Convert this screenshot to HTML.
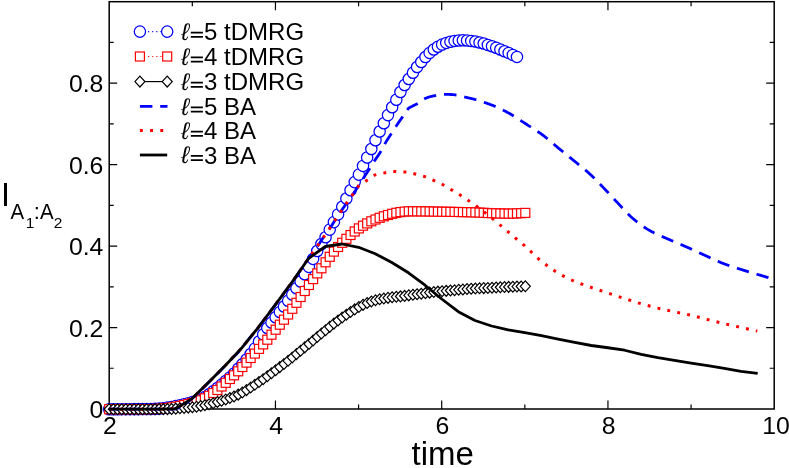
<!DOCTYPE html>
<html><head><meta charset="utf-8"><title>plot</title>
<style>html,body{margin:0;padding:0;background:#fff;}body{width:789px;height:468px;overflow:hidden;position:relative;font-family:"Liberation Sans",sans-serif;}</style>
</head><body>
<svg width="789" height="468" viewBox="0 0 789 468" style="position:absolute;left:0;top:0;will-change:transform">
<rect width="789" height="468" fill="#fff"/>
<rect x="109.2" y="1.7" width="665.0" height="407.3" fill="none" stroke="#000" stroke-width="1.5"/>
<path d="M192.32,409.0v-4.5 M192.32,1.7v4.5 M275.45,409.0v-8.5 M275.45,1.7v8.5 M358.57,409.0v-4.5 M358.57,1.7v4.5 M441.70,409.0v-8.5 M441.70,1.7v8.5 M524.83,409.0v-4.5 M524.83,1.7v4.5 M607.95,409.0v-8.5 M607.95,1.7v8.5 M691.08,409.0v-4.5 M691.08,1.7v4.5 M109.2,368.27h4.5 M774.2,368.27h-4.5 M109.2,327.54h8 M774.2,327.54h-8 M109.2,286.81h4.5 M774.2,286.81h-4.5 M109.2,246.08h8 M774.2,246.08h-8 M109.2,205.35h4.5 M774.2,205.35h-4.5 M109.2,164.62h8 M774.2,164.62h-8 M109.2,123.89h4.5 M774.2,123.89h-4.5 M109.2,83.16h8 M774.2,83.16h-8 M109.2,42.43h4.5 M774.2,42.43h-4.5" stroke="#000" stroke-width="1.2" fill="none"/>
<g fill="#fff" stroke="#0000ff" stroke-width="1.25"><circle cx="109.20" cy="409.20" r="5.65"/><circle cx="113.36" cy="409.20" r="5.65"/><circle cx="117.52" cy="409.19" r="5.65"/><circle cx="121.68" cy="409.18" r="5.65"/><circle cx="125.84" cy="409.17" r="5.65"/><circle cx="130.00" cy="409.16" r="5.65"/><circle cx="134.17" cy="409.13" r="5.65"/><circle cx="138.33" cy="409.11" r="5.65"/><circle cx="142.49" cy="409.08" r="5.65"/><circle cx="146.65" cy="409.04" r="5.65"/><circle cx="150.81" cy="409.00" r="5.65"/><circle cx="154.97" cy="408.86" r="5.65"/><circle cx="159.13" cy="408.60" r="5.65"/><circle cx="163.29" cy="408.18" r="5.65"/><circle cx="167.45" cy="407.60" r="5.65"/><circle cx="171.62" cy="406.90" r="5.65"/><circle cx="175.78" cy="406.10" r="5.65"/><circle cx="179.94" cy="405.25" r="5.65"/><circle cx="184.10" cy="404.30" r="5.65"/><circle cx="188.26" cy="403.21" r="5.65"/><circle cx="192.42" cy="402.00" r="5.65"/><circle cx="196.58" cy="400.78" r="5.65"/><circle cx="200.74" cy="399.30" r="5.65"/><circle cx="204.90" cy="397.06" r="5.65"/><circle cx="209.06" cy="394.30" r="5.65"/><circle cx="213.22" cy="391.28" r="5.65"/><circle cx="217.39" cy="388.00" r="5.65"/><circle cx="221.55" cy="384.58" r="5.65"/><circle cx="225.71" cy="381.00" r="5.65"/><circle cx="229.87" cy="377.40" r="5.65"/><circle cx="234.03" cy="373.50" r="5.65"/><circle cx="238.19" cy="368.80" r="5.65"/><circle cx="242.35" cy="364.30" r="5.65"/><circle cx="246.51" cy="359.50" r="5.65"/><circle cx="250.67" cy="354.00" r="5.65"/><circle cx="254.83" cy="348.60" r="5.65"/><circle cx="259.00" cy="341.50" r="5.65"/><circle cx="263.16" cy="334.50" r="5.65"/><circle cx="267.32" cy="328.00" r="5.65"/><circle cx="271.48" cy="322.50" r="5.65"/><circle cx="275.64" cy="317.30" r="5.65"/><circle cx="279.80" cy="312.00" r="5.65"/><circle cx="283.96" cy="306.50" r="5.65"/><circle cx="288.12" cy="300.80" r="5.65"/><circle cx="292.28" cy="294.50" r="5.65"/><circle cx="296.44" cy="288.20" r="5.65"/><circle cx="300.61" cy="281.50" r="5.65"/><circle cx="304.77" cy="274.20" r="5.65"/><circle cx="308.93" cy="266.90" r="5.65"/><circle cx="313.09" cy="258.90" r="5.65"/><circle cx="317.25" cy="251.00" r="5.65"/><circle cx="321.41" cy="244.00" r="5.65"/><circle cx="325.57" cy="237.30" r="5.65"/><circle cx="329.73" cy="229.60" r="5.65"/><circle cx="333.89" cy="222.10" r="5.65"/><circle cx="338.06" cy="214.40" r="5.65"/><circle cx="342.22" cy="206.70" r="5.65"/><circle cx="346.38" cy="198.50" r="5.65"/><circle cx="350.54" cy="190.30" r="5.65"/><circle cx="354.70" cy="182.10" r="5.65"/><circle cx="358.86" cy="174.60" r="5.65"/><circle cx="363.02" cy="165.90" r="5.65"/><circle cx="367.18" cy="157.50" r="5.65"/><circle cx="371.34" cy="149.00" r="5.65"/><circle cx="375.50" cy="140.30" r="5.65"/><circle cx="379.66" cy="131.50" r="5.65"/><circle cx="383.83" cy="123.30" r="5.65"/><circle cx="387.99" cy="115.10" r="5.65"/><circle cx="392.15" cy="107.20" r="5.65"/><circle cx="396.31" cy="99.70" r="5.65"/><circle cx="400.47" cy="92.00" r="5.65"/><circle cx="404.63" cy="85.00" r="5.65"/><circle cx="408.79" cy="79.00" r="5.65"/><circle cx="412.95" cy="72.70" r="5.65"/><circle cx="417.11" cy="67.00" r="5.65"/><circle cx="421.27" cy="62.00" r="5.65"/><circle cx="425.44" cy="57.00" r="5.65"/><circle cx="429.60" cy="52.90" r="5.65"/><circle cx="433.76" cy="49.50" r="5.65"/><circle cx="437.92" cy="46.80" r="5.65"/><circle cx="442.08" cy="44.60" r="5.65"/><circle cx="446.24" cy="42.90" r="5.65"/><circle cx="450.40" cy="41.70" r="5.65"/><circle cx="454.56" cy="40.90" r="5.65"/><circle cx="458.72" cy="40.50" r="5.65"/><circle cx="462.88" cy="40.30" r="5.65"/><circle cx="467.05" cy="40.50" r="5.65"/><circle cx="471.21" cy="40.90" r="5.65"/><circle cx="475.37" cy="41.50" r="5.65"/><circle cx="479.53" cy="42.50" r="5.65"/><circle cx="483.69" cy="43.50" r="5.65"/><circle cx="487.85" cy="44.90" r="5.65"/><circle cx="492.01" cy="46.30" r="5.65"/><circle cx="496.17" cy="47.80" r="5.65"/><circle cx="500.33" cy="49.50" r="5.65"/><circle cx="504.49" cy="51.20" r="5.65"/><circle cx="508.66" cy="52.90" r="5.65"/><circle cx="512.82" cy="54.90" r="5.65"/><circle cx="516.98" cy="56.90" r="5.65"/></g>
<g fill="#fff" stroke="#ff0000" stroke-width="1.2"><rect x="104.70" y="404.70" width="9.0" height="9.0"/><rect x="108.86" y="404.70" width="9.0" height="9.0"/><rect x="113.02" y="404.70" width="9.0" height="9.0"/><rect x="117.18" y="404.69" width="9.0" height="9.0"/><rect x="121.34" y="404.69" width="9.0" height="9.0"/><rect x="125.50" y="404.68" width="9.0" height="9.0"/><rect x="129.67" y="404.67" width="9.0" height="9.0"/><rect x="133.83" y="404.66" width="9.0" height="9.0"/><rect x="137.99" y="404.64" width="9.0" height="9.0"/><rect x="142.15" y="404.62" width="9.0" height="9.0"/><rect x="146.31" y="404.60" width="9.0" height="9.0"/><rect x="150.47" y="404.50" width="9.0" height="9.0"/><rect x="154.63" y="404.30" width="9.0" height="9.0"/><rect x="158.79" y="403.90" width="9.0" height="9.0"/><rect x="162.95" y="403.50" width="9.0" height="9.0"/><rect x="167.12" y="402.90" width="9.0" height="9.0"/><rect x="171.28" y="402.20" width="9.0" height="9.0"/><rect x="175.44" y="401.40" width="9.0" height="9.0"/><rect x="179.60" y="400.50" width="9.0" height="9.0"/><rect x="183.76" y="399.50" width="9.0" height="9.0"/><rect x="187.92" y="398.30" width="9.0" height="9.0"/><rect x="192.08" y="397.10" width="9.0" height="9.0"/><rect x="196.24" y="395.80" width="9.0" height="9.0"/><rect x="200.40" y="393.80" width="9.0" height="9.0"/><rect x="204.56" y="391.30" width="9.0" height="9.0"/><rect x="208.72" y="388.50" width="9.0" height="9.0"/><rect x="212.89" y="385.50" width="9.0" height="9.0"/><rect x="217.05" y="382.00" width="9.0" height="9.0"/><rect x="221.21" y="378.30" width="9.0" height="9.0"/><rect x="225.37" y="374.50" width="9.0" height="9.0"/><rect x="229.53" y="370.80" width="9.0" height="9.0"/><rect x="233.69" y="366.80" width="9.0" height="9.0"/><rect x="237.85" y="362.50" width="9.0" height="9.0"/><rect x="242.01" y="358.10" width="9.0" height="9.0"/><rect x="246.17" y="353.50" width="9.0" height="9.0"/><rect x="250.33" y="349.10" width="9.0" height="9.0"/><rect x="254.50" y="344.40" width="9.0" height="9.0"/><rect x="258.66" y="339.90" width="9.0" height="9.0"/><rect x="262.82" y="335.20" width="9.0" height="9.0"/><rect x="266.98" y="330.20" width="9.0" height="9.0"/><rect x="271.14" y="325.20" width="9.0" height="9.0"/><rect x="275.30" y="320.20" width="9.0" height="9.0"/><rect x="279.46" y="315.20" width="9.0" height="9.0"/><rect x="283.62" y="310.00" width="9.0" height="9.0"/><rect x="287.78" y="304.30" width="9.0" height="9.0"/><rect x="291.94" y="298.30" width="9.0" height="9.0"/><rect x="296.11" y="292.50" width="9.0" height="9.0"/><rect x="300.27" y="286.50" width="9.0" height="9.0"/><rect x="304.43" y="280.50" width="9.0" height="9.0"/><rect x="308.59" y="274.60" width="9.0" height="9.0"/><rect x="312.75" y="268.90" width="9.0" height="9.0"/><rect x="316.91" y="263.80" width="9.0" height="9.0"/><rect x="321.07" y="257.80" width="9.0" height="9.0"/><rect x="325.23" y="252.30" width="9.0" height="9.0"/><rect x="329.39" y="247.10" width="9.0" height="9.0"/><rect x="333.56" y="242.50" width="9.0" height="9.0"/><rect x="337.72" y="238.30" width="9.0" height="9.0"/><rect x="341.88" y="234.30" width="9.0" height="9.0"/><rect x="346.04" y="230.50" width="9.0" height="9.0"/><rect x="350.20" y="227.00" width="9.0" height="9.0"/><rect x="354.36" y="223.90" width="9.0" height="9.0"/><rect x="358.52" y="221.20" width="9.0" height="9.0"/><rect x="362.68" y="218.90" width="9.0" height="9.0"/><rect x="366.84" y="216.80" width="9.0" height="9.0"/><rect x="371.00" y="215.00" width="9.0" height="9.0"/><rect x="375.16" y="213.30" width="9.0" height="9.0"/><rect x="379.33" y="211.80" width="9.0" height="9.0"/><rect x="383.49" y="210.50" width="9.0" height="9.0"/><rect x="387.65" y="209.30" width="9.0" height="9.0"/><rect x="391.81" y="208.30" width="9.0" height="9.0"/><rect x="395.97" y="207.60" width="9.0" height="9.0"/><rect x="400.13" y="207.10" width="9.0" height="9.0"/><rect x="404.29" y="206.80" width="9.0" height="9.0"/><rect x="408.45" y="206.81" width="9.0" height="9.0"/><rect x="412.61" y="206.83" width="9.0" height="9.0"/><rect x="416.77" y="206.86" width="9.0" height="9.0"/><rect x="420.94" y="206.90" width="9.0" height="9.0"/><rect x="425.10" y="206.95" width="9.0" height="9.0"/><rect x="429.26" y="207.03" width="9.0" height="9.0"/><rect x="433.42" y="207.12" width="9.0" height="9.0"/><rect x="437.58" y="207.20" width="9.0" height="9.0"/><rect x="441.74" y="207.27" width="9.0" height="9.0"/><rect x="445.90" y="207.34" width="9.0" height="9.0"/><rect x="450.06" y="207.42" width="9.0" height="9.0"/><rect x="454.22" y="207.50" width="9.0" height="9.0"/><rect x="458.38" y="207.59" width="9.0" height="9.0"/><rect x="462.55" y="207.68" width="9.0" height="9.0"/><rect x="466.71" y="207.78" width="9.0" height="9.0"/><rect x="470.87" y="207.90" width="9.0" height="9.0"/><rect x="475.03" y="208.07" width="9.0" height="9.0"/><rect x="479.19" y="208.30" width="9.0" height="9.0"/><rect x="483.35" y="208.52" width="9.0" height="9.0"/><rect x="487.51" y="208.70" width="9.0" height="9.0"/><rect x="491.67" y="208.84" width="9.0" height="9.0"/><rect x="495.83" y="208.97" width="9.0" height="9.0"/><rect x="499.99" y="209.06" width="9.0" height="9.0"/><rect x="504.16" y="209.10" width="9.0" height="9.0"/><rect x="508.32" y="209.05" width="9.0" height="9.0"/><rect x="512.48" y="208.91" width="9.0" height="9.0"/><rect x="516.64" y="208.69" width="9.0" height="9.0"/><rect x="520.80" y="208.40" width="9.0" height="9.0"/></g>
<g fill="#fff" stroke="#000" stroke-width="1.2" stroke-linejoin="miter"><path d="M104.20,409.20L109.20,403.80L114.20,409.20L109.20,414.60Z"/><path d="M108.36,409.20L113.36,403.80L118.36,409.20L113.36,414.60Z"/><path d="M112.52,409.20L117.52,403.80L122.52,409.20L117.52,414.60Z"/><path d="M116.68,409.20L121.68,403.80L126.68,409.20L121.68,414.60Z"/><path d="M120.84,409.19L125.84,403.79L130.84,409.19L125.84,414.59Z"/><path d="M125.00,409.19L130.00,403.79L135.00,409.19L130.00,414.59Z"/><path d="M129.17,409.19L134.17,403.79L139.17,409.19L134.17,414.59Z"/><path d="M133.33,409.18L138.33,403.78L143.33,409.18L138.33,414.58Z"/><path d="M137.49,409.17L142.49,403.77L147.49,409.17L142.49,414.57Z"/><path d="M141.65,409.17L146.65,403.77L151.65,409.17L146.65,414.57Z"/><path d="M145.81,409.16L150.81,403.76L155.81,409.16L150.81,414.56Z"/><path d="M149.97,409.14L154.97,403.74L159.97,409.14L154.97,414.54Z"/><path d="M154.13,409.13L159.13,403.73L164.13,409.13L159.13,414.53Z"/><path d="M158.29,409.12L163.29,403.72L168.29,409.12L163.29,414.52Z"/><path d="M162.45,409.10L167.45,403.70L172.45,409.10L167.45,414.50Z"/><path d="M166.62,408.95L171.62,403.55L176.62,408.95L171.62,414.35Z"/><path d="M170.78,408.64L175.78,403.24L180.78,408.64L175.78,414.04Z"/><path d="M174.94,408.30L179.94,402.90L184.94,408.30L179.94,413.70Z"/><path d="M179.10,407.98L184.10,402.58L189.10,407.98L184.10,413.38Z"/><path d="M183.26,407.62L188.26,402.22L193.26,407.62L188.26,413.02Z"/><path d="M187.42,407.20L192.42,401.80L197.42,407.20L192.42,412.60Z"/><path d="M191.58,406.66L196.58,401.26L201.58,406.66L196.58,412.06Z"/><path d="M195.74,406.00L200.74,400.60L205.74,406.00L200.74,411.40Z"/><path d="M199.90,405.22L204.90,399.82L209.90,405.22L204.90,410.62Z"/><path d="M204.06,404.30L209.06,398.90L214.06,404.30L209.06,409.70Z"/><path d="M208.22,403.20L213.22,397.80L218.22,403.20L213.22,408.60Z"/><path d="M212.39,402.00L217.39,396.60L222.39,402.00L217.39,407.40Z"/><path d="M216.55,400.80L221.55,395.40L226.55,400.80L221.55,406.20Z"/><path d="M220.71,399.44L225.71,394.04L230.71,399.44L225.71,404.84Z"/><path d="M224.87,398.00L229.87,392.60L234.87,398.00L229.87,403.40Z"/><path d="M229.03,396.50L234.03,391.10L239.03,396.50L234.03,401.90Z"/><path d="M233.19,394.63L238.19,389.23L243.19,394.63L238.19,400.03Z"/><path d="M237.35,392.50L242.35,387.10L247.35,392.50L242.35,397.90Z"/><path d="M241.51,390.10L246.51,384.70L251.51,390.10L246.51,395.50Z"/><path d="M245.67,387.50L250.67,382.10L255.67,387.50L250.67,392.90Z"/><path d="M249.83,384.80L254.83,379.40L259.83,384.80L254.83,390.20Z"/><path d="M254.00,382.00L259.00,376.60L264.00,382.00L259.00,387.40Z"/><path d="M258.16,379.19L263.16,373.79L268.16,379.19L263.16,384.59Z"/><path d="M262.32,376.30L267.32,370.90L272.32,376.30L267.32,381.70Z"/><path d="M266.48,373.28L271.48,367.88L276.48,373.28L271.48,378.68Z"/><path d="M270.64,370.20L275.64,364.80L280.64,370.20L275.64,375.60Z"/><path d="M274.80,367.12L279.80,361.72L284.80,367.12L279.80,372.52Z"/><path d="M278.96,364.00L283.96,358.60L288.96,364.00L283.96,369.40Z"/><path d="M283.12,360.79L288.12,355.39L293.12,360.79L288.12,366.19Z"/><path d="M287.28,357.50L292.28,352.10L297.28,357.50L292.28,362.90Z"/><path d="M291.44,354.11L296.44,348.71L301.44,354.11L296.44,359.51Z"/><path d="M295.61,350.70L300.61,345.30L305.61,350.70L300.61,356.10Z"/><path d="M299.77,347.36L304.77,341.96L309.77,347.36L304.77,352.76Z"/><path d="M303.93,344.00L308.93,338.60L313.93,344.00L308.93,349.40Z"/><path d="M308.09,340.51L313.09,335.11L318.09,340.51L313.09,345.91Z"/><path d="M312.25,337.00L317.25,331.60L322.25,337.00L317.25,342.40Z"/><path d="M316.41,333.57L321.41,328.17L326.41,333.57L321.41,338.97Z"/><path d="M320.57,330.20L325.57,324.80L330.57,330.20L325.57,335.60Z"/><path d="M324.73,326.86L329.73,321.46L334.73,326.86L329.73,332.26Z"/><path d="M328.89,323.60L333.89,318.20L338.89,323.60L333.89,329.00Z"/><path d="M333.06,320.48L338.06,315.08L343.06,320.48L338.06,325.88Z"/><path d="M337.22,317.50L342.22,312.10L347.22,317.50L342.22,322.90Z"/><path d="M341.38,314.68L346.38,309.28L351.38,314.68L346.38,320.08Z"/><path d="M345.54,312.00L350.54,306.60L355.54,312.00L350.54,317.40Z"/><path d="M349.70,309.40L354.70,304.00L359.70,309.40L354.70,314.80Z"/><path d="M353.86,307.00L358.86,301.60L363.86,307.00L358.86,312.40Z"/><path d="M358.02,304.85L363.02,299.45L368.02,304.85L363.02,310.25Z"/><path d="M362.18,303.00L367.18,297.60L372.18,303.00L367.18,308.40Z"/><path d="M366.34,301.52L371.34,296.12L376.34,301.52L371.34,306.92Z"/><path d="M370.50,300.30L375.50,294.90L380.50,300.30L375.50,305.70Z"/><path d="M374.66,299.31L379.66,293.91L384.66,299.31L379.66,304.71Z"/><path d="M378.83,298.50L383.83,293.10L388.83,298.50L383.83,303.90Z"/><path d="M382.99,297.85L387.99,292.45L392.99,297.85L387.99,303.25Z"/><path d="M387.15,297.30L392.15,291.90L397.15,297.30L392.15,302.70Z"/><path d="M391.31,296.84L396.31,291.44L401.31,296.84L396.31,302.24Z"/><path d="M395.47,296.40L400.47,291.00L405.47,296.40L400.47,301.80Z"/><path d="M399.63,295.90L404.63,290.50L409.63,295.90L404.63,301.30Z"/><path d="M403.79,295.36L408.79,289.96L413.79,295.36L408.79,300.76Z"/><path d="M407.95,294.81L412.95,289.41L417.95,294.81L412.95,300.21Z"/><path d="M412.11,294.26L417.11,288.86L422.11,294.26L417.11,299.66Z"/><path d="M416.27,293.72L421.27,288.32L426.27,293.72L421.27,299.12Z"/><path d="M420.44,293.15L425.44,287.75L430.44,293.15L425.44,298.55Z"/><path d="M424.60,292.60L429.60,287.20L434.60,292.60L429.60,298.00Z"/><path d="M428.76,292.08L433.76,286.68L438.76,292.08L433.76,297.48Z"/><path d="M432.92,291.63L437.92,286.23L442.92,291.63L437.92,297.03Z"/><path d="M437.08,291.23L442.08,285.83L447.08,291.23L442.08,296.63Z"/><path d="M441.24,290.87L446.24,285.47L451.24,290.87L446.24,296.27Z"/><path d="M445.40,290.52L450.40,285.12L455.40,290.52L450.40,295.92Z"/><path d="M449.56,290.16L454.56,284.76L459.56,290.16L454.56,295.56Z"/><path d="M453.72,289.79L458.72,284.39L463.72,289.79L458.72,295.19Z"/><path d="M457.88,289.41L462.88,284.01L467.88,289.41L462.88,294.81Z"/><path d="M462.05,289.06L467.05,283.66L472.05,289.06L467.05,294.46Z"/><path d="M466.21,288.75L471.21,283.35L476.21,288.75L471.21,294.15Z"/><path d="M470.37,288.51L475.37,283.11L480.37,288.51L475.37,293.91Z"/><path d="M474.53,288.30L479.53,282.90L484.53,288.30L479.53,293.70Z"/><path d="M478.69,288.11L483.69,282.71L488.69,288.11L483.69,293.51Z"/><path d="M482.85,287.92L487.85,282.52L492.85,287.92L487.85,293.32Z"/><path d="M487.01,287.72L492.01,282.32L497.01,287.72L492.01,293.12Z"/><path d="M491.17,287.50L496.17,282.10L501.17,287.50L496.17,292.90Z"/><path d="M495.33,287.28L500.33,281.88L505.33,287.28L500.33,292.68Z"/><path d="M499.49,287.07L504.49,281.67L509.49,287.07L504.49,292.47Z"/><path d="M503.66,286.88L508.66,281.48L513.66,286.88L508.66,292.28Z"/><path d="M507.82,286.72L512.82,281.32L517.82,286.72L512.82,292.12Z"/><path d="M511.98,286.56L516.98,281.16L521.98,286.56L516.98,291.96Z"/><path d="M516.14,286.42L521.14,281.02L526.14,286.42L521.14,291.82Z"/><path d="M520.30,286.30L525.30,280.90L530.30,286.30L525.30,291.70Z"/></g>
<path d="M109.20,409.20 L109.61,409.20 L110.02,409.20 L110.44,409.20 L110.85,409.20 L111.26,409.20 L111.67,409.20 L112.09,409.20 L112.50,409.20 L112.91,409.20 L113.32,409.20 L113.74,409.20 L114.15,409.20 L114.56,409.20 L114.97,409.20 L115.38,409.20 L115.80,409.20 L116.21,409.20 L116.62,409.20 L117.03,409.20 L117.45,409.20 L117.86,409.20 L118.27,409.20 L118.68,409.20 L119.10,409.20 L119.51,409.20 L119.92,409.20 L120.33,409.20 L120.74,409.20 L121.16,409.20 L121.57,409.20 L121.98,409.20 L122.39,409.20 L122.81,409.20 L123.22,409.20 L123.63,409.20 L124.04,409.20 L124.46,409.20 L124.87,409.20 L125.28,409.20 L125.69,409.20 L126.11,409.20 L126.52,409.20 L126.93,409.20 L127.34,409.20 L127.75,409.20 L128.17,409.20 L128.58,409.20 L128.99,409.20 L129.40,409.20 L129.82,409.20 L130.23,409.20 L130.64,409.20 L131.05,409.20 L131.47,409.20 L131.88,409.20 L132.29,409.20 L132.70,409.20 L133.11,409.20 L133.53,409.20 L133.94,409.20 L134.35,409.20 L134.76,409.20 L135.18,409.20 L135.59,409.20 L136.00,409.20 L136.41,409.20 L136.83,409.20 L137.24,409.20 L137.65,409.20 L138.06,409.20 L138.47,409.20 L138.89,409.20 L139.30,409.20 L139.71,409.20 L140.12,409.20 L140.54,409.20 L140.95,409.20 L141.36,409.20 L141.77,409.20 L142.19,409.20 L142.60,409.20 L143.01,409.20 L143.42,409.20 L143.83,409.20 L144.25,409.20 L144.66,409.20 L145.07,409.20 L145.48,409.20 L145.90,409.20 L146.31,409.20 L146.72,409.20 L147.13,409.20 L147.55,409.20 L147.96,409.20 L148.37,409.20 L148.78,409.20 L149.20,409.20 L149.61,409.20 L150.02,409.20 L150.43,409.20 L150.84,409.20 L151.26,409.20 L151.67,409.20 L152.08,409.20 L152.49,409.20 L152.91,409.20 L153.32,409.20 L153.73,409.20 L154.14,409.20 L154.56,409.20 L154.97,409.20 L155.38,409.20 L155.79,409.20 L156.20,409.20 L156.62,409.20 L157.03,409.20 L157.44,409.20 L157.85,409.20 L158.27,409.20 L158.68,409.20 L159.09,409.20 L159.50,409.20 L159.92,409.20 L160.33,409.20 L160.74,409.20 L161.15,409.20 L161.56,409.20 L161.98,409.20 L162.39,409.20 L162.80,409.20 L163.21,409.20 L163.63,409.20 L164.04,409.20 L164.45,409.20 L164.86,409.20 L165.28,409.20 L165.69,409.20 L166.10,409.20 L166.51,409.20 L166.92,409.20 L167.34,409.20 L167.75,409.20 L168.16,409.20 L168.57,409.20 L168.99,409.20 L169.40,409.20 L169.81,409.20 L170.22,409.20 L170.64,409.20 L171.05,409.20 L171.46,409.20 L171.87,409.20 L172.28,409.20 L172.70,409.18 L173.11,409.15 L173.52,409.10 L173.93,409.05 L174.35,408.99 L174.76,408.92 L175.17,408.84 L175.58,408.75 L176.00,408.66 L176.41,408.57 L176.82,408.47 L177.23,408.34 L177.65,408.18 L178.06,407.99 L178.47,407.78 L178.88,407.55 L179.29,407.31 L179.71,407.06 L180.12,406.81 L180.53,406.57 L180.94,406.33 L181.36,406.11 L181.77,405.88 L182.18,405.65 L182.59,405.42 L183.01,405.19 L183.42,404.95 L183.83,404.71 L184.24,404.46 L184.65,404.21 L185.07,403.95 L185.48,403.68 L185.89,403.40 L186.30,403.12 L186.72,402.83 L187.13,402.53 L187.54,402.22 L187.95,401.91 L188.37,401.59 L188.78,401.27 L189.19,400.94 L189.60,400.61 L190.01,400.27 L190.43,399.93 L190.84,399.59 L191.25,399.24 L191.66,398.89 L192.08,398.53 L192.49,398.17 L192.90,397.80 L193.31,397.43 L193.73,397.05 L194.14,396.67 L194.55,396.28 L194.96,395.89 L195.37,395.50 L195.79,395.11 L196.20,394.71 L196.61,394.31 L197.02,393.91 L197.44,393.50 L197.85,393.10 L198.26,392.69 L198.67,392.29 L199.09,391.88 L199.50,391.48 L199.91,391.07 L200.32,390.67 L200.74,390.27 L201.15,389.87 L201.56,389.46 L201.97,389.06 L202.38,388.65 L202.80,388.24 L203.21,387.83 L203.62,387.42 L204.03,387.01 L204.45,386.60 L204.86,386.18 L205.27,385.77 L205.68,385.35 L206.10,384.94 L206.51,384.52 L206.92,384.11 L207.33,383.69 L207.74,383.27 L208.16,382.86 L208.57,382.44 L208.98,382.03 L209.39,381.61 L209.81,381.20 L210.22,380.78 L210.63,380.37 L211.04,379.96 L211.46,379.55 L211.87,379.13 L212.28,378.72 L212.69,378.31 L213.10,377.90 L213.52,377.50 L213.93,377.09 L214.34,376.68 L214.75,376.27 L215.17,375.86 L215.58,375.45 L215.99,375.04 L216.40,374.63 L216.82,374.22 L217.23,373.81 L217.64,373.40 L218.05,372.98 L218.46,372.57 L218.88,372.15 L219.29,371.74 L219.70,371.32 L220.11,370.90 L220.53,370.48 L220.94,370.06 L221.35,369.64 L221.76,369.21 L222.18,368.79 L222.59,368.36 L223.00,367.93 L223.41,367.49 L223.83,367.06 L224.24,366.63 L224.65,366.19 L225.06,365.75 L225.47,365.32 L225.89,364.88 L226.30,364.44 L226.71,364.00 L227.12,363.57 L227.54,363.13 L227.95,362.69 L228.36,362.26 L228.77,361.82 L229.19,361.39 L229.60,360.96 L230.01,360.53 L230.42,360.10 L230.83,359.68 L231.25,359.25 L231.66,358.84 L232.07,358.42 L232.48,358.02 L232.90,357.61 L233.31,357.21 L233.72,356.82 L234.13,356.42 L234.55,356.02 L234.96,355.62 L235.37,355.22 L235.78,354.82 L236.19,354.41 L236.61,354.00 L237.02,353.58 L237.43,353.15 L237.84,352.71 L238.26,352.27 L238.67,351.81 L239.08,351.34 L239.49,350.86 L239.91,350.37 L240.32,349.87 L240.73,349.36 L241.14,348.84 L241.55,348.32 L241.97,347.79 L242.38,347.26 L242.79,346.72 L243.20,346.19 L243.62,345.65 L244.03,345.11 L244.44,344.57 L244.85,344.04 L245.27,343.51 L245.68,342.98 L246.09,342.46 L246.50,341.94 L246.91,341.44 L247.33,340.93 L247.74,340.43 L248.15,339.94 L248.56,339.44 L248.98,338.95 L249.39,338.46 L249.80,337.97 L250.21,337.48 L250.63,336.99 L251.04,336.50 L251.45,336.01 L251.86,335.52 L252.28,335.03 L252.69,334.54 L253.10,334.04 L253.51,333.54 L253.92,333.03 L254.34,332.53 L254.75,332.01 L255.16,331.50 L255.57,330.98 L255.99,330.45 L256.40,329.92 L256.81,329.39 L257.22,328.86 L257.64,328.32 L258.05,327.78 L258.46,327.24 L258.87,326.70 L259.28,326.15 L259.70,325.61 L260.11,325.06 L260.52,324.51 L260.93,323.96 L261.35,323.41 L261.76,322.86 L262.17,322.31 L262.58,321.76 L263.00,321.21 L263.41,320.65 L263.82,320.10 L264.23,319.55 L264.64,319.00 L265.06,318.46 L265.47,317.91 L265.88,317.36 L266.29,316.81 L266.71,316.27 L267.12,315.72 L267.53,315.17 L267.94,314.62 L268.36,314.07 L268.77,313.52 L269.18,312.97 L269.59,312.42 L270.00,311.87 L270.42,311.32 L270.83,310.77 L271.24,310.22 L271.65,309.67 L272.07,309.12 L272.48,308.57 L272.89,308.02 L273.30,307.47 L273.72,306.92 L274.13,306.37 L274.54,305.81 L274.95,305.26 L275.37,304.71 L275.78,304.16 L276.19,303.61 L276.60,303.06 L277.01,302.51 L277.43,301.96 L277.84,301.41 L278.25,300.86 L278.66,300.31 L279.08,299.76 L279.49,299.21 L279.90,298.66 L280.31,298.11 L280.73,297.56 L281.14,297.01 L281.55,296.46 L281.96,295.90 L282.37,295.35 L282.79,294.80 L283.20,294.24 L283.61,293.69 L284.02,293.13 L284.44,292.58 L284.85,292.02 L285.26,291.46 L285.67,290.90 L286.09,290.34 L286.50,289.78 L286.91,289.21 L287.32,288.65 L287.73,288.09 L288.15,287.53 L288.56,286.96 L288.97,286.40 L289.38,285.84 L289.80,285.28 L290.21,284.71 L290.62,284.15 L291.03,283.58 L291.45,283.02 L291.86,282.45 L292.27,281.88 L292.68,281.31 L293.09,280.74 L293.51,280.17 L293.92,279.60 L294.33,279.02 L294.74,278.44 L295.16,277.86 L295.57,277.28 L295.98,276.69 L296.39,276.11 L296.81,275.52 L297.22,274.92 L297.63,274.33 L298.04,273.73 L298.45,273.13 L298.87,272.51 L299.28,271.89 L299.69,271.26 L300.10,270.62 L300.52,269.99 L300.93,269.35 L301.34,268.71 L301.75,268.07 L302.17,267.44 L302.58,266.81 L302.99,266.19 L303.40,265.59 L303.82,264.99 L304.23,264.40 L304.64,263.81 L305.05,263.23 L305.46,262.66 L305.88,262.09 L306.29,261.52 L306.70,260.95 L307.11,260.39 L307.53,259.83 L307.94,259.28 L308.35,258.72 L308.76,258.17 L309.18,257.61 L309.59,257.06 L310.00,256.50 L310.41,255.95 L310.82,255.39 L311.24,254.84 L311.65,254.28 L312.06,253.71 L312.47,253.15 L312.89,252.58 L313.30,252.01 L313.71,251.45 L314.12,250.88 L314.54,250.32 L314.95,249.75 L315.36,249.19 L315.77,248.62 L316.18,248.05 L316.60,247.48 L317.01,246.90 L317.42,246.32 L317.83,245.74 L318.25,245.15 L318.66,244.56 L319.07,243.96 L319.48,243.35 L319.90,242.73 L320.31,242.10 L320.72,241.47 L321.13,240.84 L321.54,240.20 L321.96,239.57 L322.37,238.94 L322.78,238.31 L323.19,237.69 L323.61,237.08 L324.02,236.48 L324.43,235.89 L324.84,235.31 L325.26,234.73 L325.67,234.16 L326.08,233.59 L326.49,233.02 L326.91,232.46 L327.32,231.89 L327.73,231.33 L328.14,230.75 L328.55,230.18 L328.97,229.60 L329.38,229.01 L329.79,228.41 L330.20,227.80 L330.62,227.18 L331.03,226.55 L331.44,225.91 L331.85,225.27 L332.27,224.62 L332.68,223.97 L333.09,223.32 L333.50,222.66 L333.91,222.01 L334.33,221.36 L334.74,220.72 L335.15,220.08 L335.56,219.45 L335.98,218.82 L336.39,218.19 L336.80,217.57 L337.21,216.95 L337.63,216.32 L338.04,215.70 L338.45,215.08 L338.86,214.47 L339.27,213.85 L339.69,213.24 L340.10,212.63 L340.51,212.02 L340.92,211.41 L341.34,210.81 L341.75,210.20 L342.16,209.60 L342.57,209.01 L342.99,208.41 L343.40,207.81 L343.81,207.22 L344.22,206.63 L344.63,206.04 L345.05,205.45 L345.46,204.86 L345.87,204.27 L346.28,203.68 L346.70,203.09 L347.11,202.50 L347.52,201.91 L347.93,201.33 L348.35,200.75 L348.76,200.16 L349.17,199.58 L349.58,199.00 L349.99,198.42 L350.41,197.84 L350.82,197.25 L351.23,196.67 L351.64,196.08 L352.06,195.49 L352.47,194.89 L352.88,194.29 L353.29,193.69 L353.71,193.09 L354.12,192.49 L354.53,191.88 L354.94,191.28 L355.36,190.67 L355.77,190.06 L356.18,189.44 L356.59,188.83 L357.00,188.21 L357.42,187.59 L357.83,186.96 L358.24,186.34 L358.65,185.70 L359.07,185.07 L359.48,184.42 L359.89,183.78 L360.30,183.13 L360.72,182.48 L361.13,181.83 L361.54,181.17 L361.95,180.52 L362.36,179.87 L362.78,179.22 L363.19,178.57 L363.60,177.93 L364.01,177.29 L364.43,176.65 L364.84,176.01 L365.25,175.37 L365.66,174.73 L366.08,174.09 L366.49,173.45 L366.90,172.81 L367.31,172.17 L367.72,171.53 L368.14,170.90 L368.55,170.26 L368.96,169.62 L369.37,168.97 L369.79,168.33 L370.20,167.69 L370.61,167.05 L371.02,166.40 L371.44,165.75 L371.85,165.10 L372.26,164.46 L372.67,163.81 L373.08,163.16 L373.50,162.52 L373.91,161.87 L374.32,161.23 L374.73,160.59 L375.15,159.96 L375.56,159.34 L375.97,158.73 L376.38,158.12 L376.80,157.52 L377.21,156.92 L377.62,156.32 L378.03,155.71 L378.45,155.11 L378.86,154.49 L379.27,153.87 L379.68,153.25 L380.09,152.61 L380.51,151.95 L380.92,151.28 L381.33,150.60 L381.74,149.90 L382.16,149.16 L382.57,148.38 L382.98,147.56 L383.39,146.72 L383.81,145.89 L384.22,145.07 L384.63,144.29 L385.04,143.55 L385.45,142.84 L385.87,142.14 L386.28,141.45 L386.69,140.78 L387.10,140.12 L387.52,139.46 L387.93,138.82 L388.34,138.18 L388.75,137.54 L389.17,136.91 L389.58,136.29 L389.99,135.66 L390.40,135.04 L390.81,134.41 L391.23,133.79 L391.64,133.16 L392.05,132.52 L392.46,131.88 L392.88,131.25 L393.29,130.61 L393.70,129.98 L394.11,129.35 L394.53,128.71 L394.94,128.08 L395.35,127.46 L395.76,126.83 L396.17,126.20 L396.59,125.58 L397.00,124.96 L397.41,124.34 L397.82,123.72 L398.24,123.10 L398.65,122.49 L399.06,121.88 L399.47,121.27 L399.89,120.67 L400.30,120.07 L400.71,119.47 L401.12,118.89 L401.54,118.31 L401.95,117.74 L402.36,117.16 L402.77,116.60 L403.18,116.03 L403.60,115.46 L404.01,114.89 L404.42,114.32 L404.83,113.74 L405.25,113.16 L405.66,112.58 L406.07,111.98 L406.48,111.38 L406.90,110.76 L407.31,110.13 L407.72,109.39 L408.13,108.68 L408.54,108.22 L408.96,107.94 L409.37,107.72 L409.78,107.51 L410.19,107.28 L410.61,107.06 L411.02,106.84 L411.43,106.63 L411.84,106.42 L412.26,106.21 L412.67,106.01 L413.08,105.81 L413.49,105.60 L413.90,105.40 L414.32,105.20 L414.73,105.00 L415.14,104.80 L415.55,104.60 L415.97,104.39 L416.38,104.18 L416.79,103.96 L417.20,103.74 L417.62,103.52 L418.03,103.29 L418.44,103.05 L418.85,102.81 L419.26,102.54 L419.68,102.26 L420.09,101.97 L420.50,101.66 L420.91,101.35 L421.33,101.03 L421.74,100.71 L422.15,100.39 L422.56,100.08 L422.98,99.78 L423.39,99.49 L423.80,99.22 L424.21,98.96 L424.62,98.73 L425.04,98.53 L425.45,98.34 L425.86,98.17 L426.27,98.00 L426.69,97.84 L427.10,97.68 L427.51,97.53 L427.92,97.39 L428.34,97.25 L428.75,97.12 L429.16,97.00 L429.57,96.88 L429.99,96.76 L430.40,96.65 L430.81,96.55 L431.22,96.45 L431.63,96.35 L432.05,96.25 L432.46,96.16 L432.87,96.08 L433.28,95.99 L433.70,95.91 L434.11,95.83 L434.52,95.75 L434.93,95.68 L435.35,95.61 L435.76,95.54 L436.17,95.47 L436.58,95.41 L436.99,95.35 L437.41,95.28 L437.82,95.22 L438.23,95.16 L438.64,95.09 L439.06,95.03 L439.47,94.96 L439.88,94.90 L440.29,94.83 L440.71,94.77 L441.12,94.71 L441.53,94.66 L441.94,94.61 L442.35,94.56 L442.77,94.52 L443.18,94.48 L443.59,94.45 L444.00,94.42 L444.42,94.41 L444.83,94.40 L445.24,94.40 L445.65,94.40 L446.07,94.40 L446.48,94.41 L446.89,94.41 L447.30,94.42 L447.71,94.42 L448.13,94.43 L448.54,94.44 L448.95,94.45 L449.36,94.46 L449.78,94.47 L450.19,94.48 L450.60,94.49 L451.01,94.50 L451.43,94.52 L451.84,94.54 L452.25,94.57 L452.66,94.60 L453.08,94.64 L453.49,94.68 L453.90,94.73 L454.31,94.78 L454.72,94.83 L455.14,94.89 L455.55,94.95 L455.96,95.01 L456.37,95.08 L456.79,95.14 L457.20,95.20 L457.61,95.27 L458.02,95.34 L458.44,95.41 L458.85,95.49 L459.26,95.58 L459.67,95.67 L460.08,95.76 L460.50,95.87 L460.91,95.97 L461.32,96.08 L461.73,96.19 L462.15,96.30 L462.56,96.42 L462.97,96.53 L463.38,96.64 L463.80,96.76 L464.21,96.87 L464.62,96.98 L465.03,97.08 L465.44,97.19 L465.86,97.29 L466.27,97.39 L466.68,97.48 L467.09,97.58 L467.51,97.68 L467.92,97.77 L468.33,97.87 L468.74,97.96 L469.16,98.05 L469.57,98.15 L469.98,98.24 L470.39,98.34 L470.80,98.43 L471.22,98.53 L471.63,98.62 L472.04,98.72 L472.45,98.81 L472.87,98.91 L473.28,99.01 L473.69,99.11 L474.10,99.21 L474.52,99.31 L474.93,99.42 L475.34,99.52 L475.75,99.63 L476.16,99.74 L476.58,99.85 L476.99,99.97 L477.40,100.09 L477.81,100.21 L478.23,100.33 L478.64,100.46 L479.05,100.59 L479.46,100.72 L479.88,100.85 L480.29,100.99 L480.70,101.12 L481.11,101.26 L481.53,101.40 L481.94,101.55 L482.35,101.69 L482.76,101.83 L483.17,101.98 L483.59,102.12 L484.00,102.27 L484.41,102.42 L484.82,102.56 L485.24,102.71 L485.65,102.85 L486.06,103.00 L486.47,103.14 L486.89,103.29 L487.30,103.43 L487.71,103.58 L488.12,103.72 L488.53,103.87 L488.95,104.02 L489.36,104.17 L489.77,104.32 L490.18,104.47 L490.60,104.62 L491.01,104.77 L491.42,104.92 L491.83,105.08 L492.25,105.23 L492.66,105.39 L493.07,105.55 L493.48,105.72 L493.89,105.88 L494.31,106.05 L494.72,106.22 L495.13,106.39 L495.54,106.56 L495.96,106.74 L496.37,106.92 L496.78,107.10 L497.19,107.28 L497.61,107.46 L498.02,107.65 L498.43,107.84 L498.84,108.03 L499.25,108.22 L499.67,108.41 L500.08,108.61 L500.49,108.81 L500.90,109.01 L501.32,109.21 L501.73,109.41 L502.14,109.62 L502.55,109.83 L502.97,110.03 L503.38,110.24 L503.79,110.45 L504.20,110.67 L504.62,110.88 L505.03,111.10 L505.44,111.31 L505.85,111.53 L506.26,111.75 L506.68,111.97 L507.09,112.20 L507.50,112.42 L507.91,112.64 L508.33,112.87 L508.74,113.10 L509.15,113.33 L509.56,113.56 L509.98,113.80 L510.39,114.03 L510.80,114.27 L511.21,114.52 L511.62,114.76 L512.04,115.01 L512.45,115.26 L512.86,115.51 L513.27,115.76 L513.69,116.01 L514.10,116.27 L514.51,116.52 L514.92,116.78 L515.34,117.04 L515.75,117.30 L516.16,117.57 L516.57,117.83 L516.98,118.09 L517.40,118.36 L517.81,118.62 L518.22,118.89 L518.63,119.16 L519.05,119.43 L519.46,119.70 L519.87,119.97 L520.28,120.24 L520.70,120.51 L521.11,120.78 L521.52,121.05 L521.93,121.32 L522.34,121.59 L522.76,121.86 L523.17,122.13 L523.58,122.40 L523.99,122.67 L524.41,122.94 L524.82,123.20 L525.23,123.47 L525.64,123.74 L526.06,124.01 L526.47,124.27 L526.88,124.54 L527.29,124.80 L527.71,125.07 L528.12,125.33 L528.53,125.59 L528.94,125.85 L529.35,126.12 L529.77,126.38 L530.18,126.64 L530.59,126.90 L531.00,127.17 L531.42,127.43 L531.83,127.69 L532.24,127.95 L532.65,128.22 L533.07,128.48 L533.48,128.75 L533.89,129.01 L534.30,129.28 L534.71,129.55 L535.13,129.81 L535.54,130.08 L535.95,130.35 L536.36,130.63 L536.78,130.90 L537.19,131.17 L537.60,131.45 L538.01,131.73 L538.43,132.01 L538.84,132.29 L539.25,132.57 L539.66,132.86 L540.07,133.14 L540.49,133.43 L540.90,133.72 L541.31,134.02 L541.72,134.31 L542.14,134.61 L542.55,134.91 L542.96,135.22 L543.37,135.53 L543.79,135.84 L544.20,136.16 L544.61,136.48 L545.02,136.80 L545.43,137.13 L545.85,137.45 L546.26,137.79 L546.67,138.12 L547.08,138.46 L547.50,138.80 L547.91,139.14 L548.32,139.49 L548.73,139.84 L549.15,140.18 L549.56,140.53 L549.97,140.88 L550.38,141.24 L550.79,141.59 L551.21,141.94 L551.62,142.30 L552.03,142.65 L552.44,143.01 L552.86,143.37 L553.27,143.72 L553.68,144.08 L554.09,144.43 L554.51,144.78 L554.92,145.14 L555.33,145.49 L555.74,145.84 L556.16,146.19 L556.57,146.54 L556.98,146.89 L557.39,147.23 L557.80,147.57 L558.22,147.91 L558.63,148.25 L559.04,148.59 L559.45,148.93 L559.87,149.27 L560.28,149.60 L560.69,149.94 L561.10,150.28 L561.52,150.61 L561.93,150.95 L562.34,151.28 L562.75,151.62 L563.16,151.95 L563.58,152.29 L563.99,152.62 L564.40,152.95 L564.81,153.29 L565.23,153.62 L565.64,153.96 L566.05,154.29 L566.46,154.62 L566.88,154.96 L567.29,155.29 L567.70,155.62 L568.11,155.96 L568.52,156.29 L568.94,156.63 L569.35,156.96 L569.76,157.30 L570.17,157.63 L570.59,157.97 L571.00,158.30 L571.41,158.64 L571.82,158.97 L572.24,159.31 L572.65,159.65 L573.06,159.99 L573.47,160.32 L573.88,160.66 L574.30,161.00 L574.71,161.34 L575.12,161.68 L575.53,162.02 L575.95,162.36 L576.36,162.70 L576.77,163.03 L577.18,163.37 L577.60,163.71 L578.01,164.04 L578.42,164.37 L578.83,164.71 L579.25,165.04 L579.66,165.38 L580.07,165.71 L580.48,166.04 L580.89,166.38 L581.31,166.71 L581.72,167.05 L582.13,167.39 L582.54,167.73 L582.96,168.06 L583.37,168.40 L583.78,168.74 L584.19,169.09 L584.61,169.43 L585.02,169.78 L585.43,170.12 L585.84,170.47 L586.25,170.82 L586.67,171.18 L587.08,171.53 L587.49,171.89 L587.90,172.25 L588.32,172.61 L588.73,172.98 L589.14,173.35 L589.55,173.72 L589.97,174.09 L590.38,174.47 L590.79,174.85 L591.20,175.24 L591.61,175.63 L592.03,176.02 L592.44,176.42 L592.85,176.81 L593.26,177.22 L593.68,177.62 L594.09,178.03 L594.50,178.44 L594.91,178.85 L595.33,179.27 L595.74,179.68 L596.15,180.10 L596.56,180.52 L596.97,180.95 L597.39,181.37 L597.80,181.80 L598.21,182.22 L598.62,182.65 L599.04,183.08 L599.45,183.51 L599.86,183.94 L600.27,184.38 L600.69,184.81 L601.10,185.24 L601.51,185.67 L601.92,186.11 L602.33,186.54 L602.75,186.97 L603.16,187.40 L603.57,187.84 L603.98,188.27 L604.40,188.70 L604.81,189.13 L605.22,189.56 L605.63,189.99 L606.05,190.43 L606.46,190.87 L606.87,191.31 L607.28,191.75 L607.70,192.19 L608.11,192.63 L608.52,193.07 L608.93,193.52 L609.34,193.96 L609.76,194.41 L610.17,194.85 L610.58,195.30 L610.99,195.75 L611.41,196.20 L611.82,196.64 L612.23,197.09 L612.64,197.54 L613.06,197.98 L613.47,198.43 L613.88,198.88 L614.29,199.32 L614.70,199.77 L615.12,200.21 L615.53,200.65 L615.94,201.09 L616.35,201.53 L616.77,201.97 L617.18,202.41 L617.59,202.84 L618.00,203.28 L618.42,203.71 L618.83,204.14 L619.24,204.58 L619.65,205.02 L620.06,205.45 L620.48,205.89 L620.89,206.34 L621.30,206.78 L621.71,207.22 L622.13,207.67 L622.54,208.11 L622.95,208.56 L623.36,209.00 L623.78,209.45 L624.19,209.89 L624.60,210.33 L625.01,210.77 L625.42,211.21 L625.84,211.64 L626.25,212.08 L626.66,212.51 L627.07,212.93 L627.49,213.36 L627.90,213.78 L628.31,214.19 L628.72,214.61 L629.14,215.01 L629.55,215.41 L629.96,215.81 L630.37,216.20 L630.79,216.58 L631.20,216.96 L631.61,217.34 L632.02,217.70 L632.43,218.06 L632.85,218.41 L633.26,218.76 L633.67,219.11 L634.08,219.45 L634.50,219.79 L634.91,220.13 L635.32,220.47 L635.73,220.81 L636.15,221.14 L636.56,221.47 L636.97,221.80 L637.38,222.12 L637.79,222.45 L638.21,222.77 L638.62,223.09 L639.03,223.40 L639.44,223.72 L639.86,224.03 L640.27,224.33 L640.68,224.64 L641.09,224.94 L641.51,225.24 L641.92,225.54 L642.33,225.83 L642.74,226.12 L643.15,226.41 L643.57,226.69 L643.98,226.97 L644.39,227.25 L644.80,227.52 L645.22,227.79 L645.63,228.06 L646.04,228.33 L646.45,228.59 L646.87,228.85 L647.28,229.10 L647.69,229.35 L648.10,229.60 L648.51,229.85 L648.93,230.09 L649.34,230.32 L649.75,230.56 L650.16,230.79 L650.58,231.01 L650.99,231.24 L651.40,231.46 L651.81,231.68 L652.23,231.89 L652.64,232.10 L653.05,232.31 L653.46,232.52 L653.87,232.72 L654.29,232.93 L654.70,233.13 L655.11,233.32 L655.52,233.52 L655.94,233.72 L656.35,233.91 L656.76,234.10 L657.17,234.29 L657.59,234.48 L658.00,234.66 L658.41,234.85 L658.82,235.03 L659.24,235.22 L659.65,235.40 L660.06,235.58 L660.47,235.76 L660.88,235.94 L661.30,236.12 L661.71,236.30 L662.12,236.48 L662.53,236.66 L662.95,236.84 L663.36,237.01 L663.77,237.19 L664.18,237.37 L664.60,237.55 L665.01,237.73 L665.42,237.91 L665.83,238.09 L666.24,238.28 L666.66,238.46 L667.07,238.64 L667.48,238.83 L667.89,239.01 L668.31,239.19 L668.72,239.37 L669.13,239.55 L669.54,239.73 L669.96,239.91 L670.37,240.09 L670.78,240.27 L671.19,240.45 L671.60,240.62 L672.02,240.80 L672.43,240.98 L672.84,241.15 L673.25,241.33 L673.67,241.50 L674.08,241.67 L674.49,241.85 L674.90,242.02 L675.32,242.19 L675.73,242.37 L676.14,242.54 L676.55,242.71 L676.96,242.88 L677.38,243.06 L677.79,243.23 L678.20,243.40 L678.61,243.57 L679.03,243.75 L679.44,243.92 L679.85,244.09 L680.26,244.27 L680.68,244.44 L681.09,244.61 L681.50,244.79 L681.91,244.96 L682.33,245.14 L682.74,245.31 L683.15,245.49 L683.56,245.67 L683.97,245.84 L684.39,246.02 L684.80,246.20 L685.21,246.38 L685.62,246.56 L686.04,246.74 L686.45,246.92 L686.86,247.10 L687.27,247.29 L687.69,247.47 L688.10,247.65 L688.51,247.84 L688.92,248.02 L689.33,248.21 L689.75,248.40 L690.16,248.58 L690.57,248.77 L690.98,248.96 L691.40,249.14 L691.81,249.33 L692.22,249.52 L692.63,249.71 L693.05,249.90 L693.46,250.09 L693.87,250.28 L694.28,250.47 L694.69,250.66 L695.11,250.85 L695.52,251.04 L695.93,251.23 L696.34,251.42 L696.76,251.61 L697.17,251.80 L697.58,251.99 L697.99,252.18 L698.41,252.37 L698.82,252.56 L699.23,252.75 L699.64,252.94 L700.05,253.13 L700.47,253.31 L700.88,253.50 L701.29,253.69 L701.70,253.88 L702.12,254.07 L702.53,254.25 L702.94,254.44 L703.35,254.63 L703.77,254.81 L704.18,255.00 L704.59,255.19 L705.00,255.37 L705.42,255.56 L705.83,255.75 L706.24,255.93 L706.65,256.12 L707.06,256.31 L707.48,256.50 L707.89,256.69 L708.30,256.88 L708.71,257.07 L709.13,257.26 L709.54,257.46 L709.95,257.65 L710.36,257.84 L710.78,258.03 L711.19,258.22 L711.60,258.41 L712.01,258.60 L712.42,258.79 L712.84,258.98 L713.25,259.17 L713.66,259.36 L714.07,259.55 L714.49,259.74 L714.90,259.92 L715.31,260.11 L715.72,260.30 L716.14,260.48 L716.55,260.66 L716.96,260.85 L717.37,261.03 L717.78,261.21 L718.20,261.39 L718.61,261.57 L719.02,261.74 L719.43,261.92 L719.85,262.09 L720.26,262.27 L720.67,262.44 L721.08,262.61 L721.50,262.77 L721.91,262.94 L722.32,263.10 L722.73,263.27 L723.14,263.43 L723.56,263.58 L723.97,263.74 L724.38,263.89 L724.79,264.05 L725.21,264.20 L725.62,264.35 L726.03,264.50 L726.44,264.65 L726.86,264.80 L727.27,264.95 L727.68,265.09 L728.09,265.24 L728.50,265.38 L728.92,265.52 L729.33,265.67 L729.74,265.81 L730.15,265.95 L730.57,266.09 L730.98,266.22 L731.39,266.36 L731.80,266.50 L732.22,266.64 L732.63,266.77 L733.04,266.91 L733.45,267.04 L733.87,267.17 L734.28,267.31 L734.69,267.44 L735.10,267.57 L735.51,267.71 L735.93,267.84 L736.34,267.97 L736.75,268.10 L737.16,268.23 L737.58,268.36 L737.99,268.49 L738.40,268.62 L738.81,268.75 L739.23,268.88 L739.64,269.01 L740.05,269.14 L740.46,269.27 L740.87,269.40 L741.29,269.53 L741.70,269.65 L742.11,269.78 L742.52,269.91 L742.94,270.04 L743.35,270.17 L743.76,270.30 L744.17,270.43 L744.59,270.56 L745.00,270.68 L745.41,270.81 L745.82,270.93 L746.23,271.06 L746.65,271.18 L747.06,271.31 L747.47,271.43 L747.88,271.55 L748.30,271.68 L748.71,271.80 L749.12,271.92 L749.53,272.04 L749.95,272.16 L750.36,272.29 L750.77,272.41 L751.18,272.53 L751.59,272.65 L752.01,272.77 L752.42,272.89 L752.83,273.01 L753.24,273.13 L753.66,273.25 L754.07,273.38 L754.48,273.50 L754.89,273.62 L755.31,273.74 L755.72,273.86 L756.13,273.98 L756.54,274.11 L756.96,274.23 L757.37,274.35 L757.78,274.47 L758.19,274.60 L758.60,274.72 L759.02,274.84 L759.43,274.97 L759.84,275.09 L760.25,275.22 L760.67,275.34 L761.08,275.46 L761.49,275.59 L761.90,275.71 L762.32,275.84 L762.73,275.96 L763.14,276.08 L763.55,276.21 L763.96,276.33 L764.38,276.46 L764.79,276.58 L765.20,276.71 L765.61,276.83 L766.03,276.95 L766.44,277.08 L766.85,277.20 L767.26,277.33 L767.68,277.45 L768.09,277.58 L768.50,277.70" fill="none" stroke="#0000ff" stroke-width="2.8" stroke-dasharray="12.5 7.933" stroke-dashoffset="2.49"/>
<path d="M109.20,409.20 L125.83,409.20 L142.45,409.20 L159.07,409.20 L175.70,408.73 L192.32,398.32 L208.95,382.06 L225.57,365.21 L242.20,347.49 L258.82,326.76 L275.45,304.60 L292.07,282.15 L308.70,258.30 L325.32,234.63 L341.95,209.91 L358.57,185.90 L375.20,174.86 L391.82,171.36 L408.45,172.20 L425.07,176.70 L441.70,183.98 L447.40,187.36" fill="none" stroke="#ff0000" stroke-width="3.0" stroke-dasharray="2.9 7.215" stroke-dashoffset="9.61"/>
<path d="M447.40,187.36 L458.32,193.83 L474.95,204.83 L491.57,217.76 L508.20,231.96 L524.83,245.94 L541.45,261.51 L558.08,273.35 L574.70,281.49 L591.33,287.51 L607.95,293.05 L624.58,298.60 L641.20,303.84 L657.83,308.12 L674.45,311.84 L691.08,315.18 L707.70,319.58 L724.33,323.65 L740.95,327.44 L757.30,331.10" fill="none" stroke="#ff0000" stroke-width="3.0" stroke-dasharray="2.9 7.200" stroke-dashoffset="6.55"/>
<path d="M109.20,409.20 L125.83,409.20 L142.45,409.20 L159.07,409.20 L175.70,408.73 L192.32,398.32 L208.95,382.06 L225.57,365.21 L242.20,347.49 L258.82,326.76 L275.45,304.60 L292.07,282.15 L308.70,258.30 L325.32,246.50 L341.95,244.00 L358.57,247.30 L375.20,253.69 L391.82,262.56 L408.45,272.77 L425.07,285.23 L441.70,298.99 L458.32,311.73 L474.95,320.52 L491.57,325.99 L508.20,329.80 L524.83,332.55 L541.45,335.69 L558.08,339.17 L574.70,342.49 L591.33,345.50 L607.95,347.75 L624.58,350.24 L641.20,354.32 L657.83,357.60 L674.45,360.42 L691.08,363.04 L707.70,365.64 L724.33,368.43 L740.95,371.29 L757.70,373.40" fill="none" stroke="#000" stroke-width="2.8" stroke-linejoin="round"/>
<g font-family="Liberation Sans, sans-serif" font-size="24.8" fill="#000"><text x="109.90" y="433.8" text-anchor="middle">2</text><text x="276.15" y="433.8" text-anchor="middle">4</text><text x="442.40" y="433.8" text-anchor="middle">6</text><text x="608.65" y="433.8" text-anchor="middle">8</text><text x="776.10" y="433.8" text-anchor="middle">10</text><text x="103.4" y="418.10" text-anchor="end">0</text><text x="103.4" y="336.64" text-anchor="end">0.2</text><text x="103.4" y="255.18" text-anchor="end">0.4</text><text x="103.4" y="173.72" text-anchor="end">0.6</text><text x="103.4" y="92.26" text-anchor="end">0.8</text></g>
<text x="411.6" y="464.9" font-family="Liberation Sans, sans-serif" font-size="33" fill="#000">time</text>
<g font-family="Liberation Sans, sans-serif" fill="#000"><text x="1.0" y="205.7" font-size="32.5">I</text><text transform="translate(10.45,218.5) scale(0.93,1)" font-size="22">A</text><text x="25.7" y="227.7" font-size="15.5">1</text><text x="33.7" y="218.5" font-size="22">:</text><text transform="translate(40.05,218.5) scale(0.93,1)" font-size="22">A</text><text x="53.7" y="227.7" font-size="15.5">2</text></g>
<path d="M139.9,31.6H167.2" stroke="#0000ff" stroke-width="1.25" stroke-dasharray="1.1 3"/>
<g fill="#fff" stroke="#0000ff" stroke-width="1.25"><circle cx="139.9" cy="31.6" r="5.65"/><circle cx="167.2" cy="31.6" r="5.65"/></g>
<path d="M139.9,56.5H167.2" stroke="#ff0000" stroke-width="1.2" stroke-dasharray="1.1 3"/>
<g fill="#fff" stroke="#ff0000" stroke-width="1.2"><rect x="135.4" y="52.0" width="9.0" height="9.0"/><rect x="162.7" y="52.0" width="9.0" height="9.0"/></g>
<path d="M139.9,81.6H167.2" stroke="#000" stroke-width="1.2"/>
<g fill="#fff" stroke="#000" stroke-width="1.2"><path d="M134.90,81.60L139.90,76.20L144.90,81.60L139.90,87.00Z"/><path d="M162.20,81.60L167.20,76.20L172.20,81.60L167.20,87.00Z"/></g>
<path d="M139.9,106.3H167.5" stroke="#0000ff" stroke-width="2.8" stroke-dasharray="12.5 7.8"/>
<path d="M139.9,130.6H167.2" stroke="#ff0000" stroke-width="3.0" stroke-dasharray="2.9 7.3"/>
<path d="M139.9,155H167.2" stroke="#000" stroke-width="2.8"/>
<g font-family="Liberation Sans, sans-serif" font-size="24" fill="#000"><text x="181.2" y="40.00" font-style="italic">&#8467;</text><text x="204.05" y="40.20">5 tDMRG</text><text x="181.2" y="64.90" font-style="italic">&#8467;</text><text x="204.05" y="65.10">4 tDMRG</text><text x="181.2" y="90.00" font-style="italic">&#8467;</text><text x="204.05" y="90.20">3 tDMRG</text><text x="181.2" y="114.70" font-style="italic">&#8467;</text><text x="204.05" y="114.90">5 BA</text><text x="181.2" y="139.00" font-style="italic">&#8467;</text><text x="204.05" y="139.20">4 BA</text><text x="181.2" y="163.40" font-style="italic">&#8467;</text><text x="204.05" y="163.60">3 BA</text></g>
<path d="M190.8,32.55H202.9M190.8,36.80H202.9M190.8,57.45H202.9M190.8,61.70H202.9M190.8,82.55H202.9M190.8,86.80H202.9M190.8,107.25H202.9M190.8,111.50H202.9M190.8,131.55H202.9M190.8,135.80H202.9M190.8,155.95H202.9M190.8,160.20H202.9" stroke="#000" stroke-width="1.75" fill="none"/>
</svg>
</body></html>
